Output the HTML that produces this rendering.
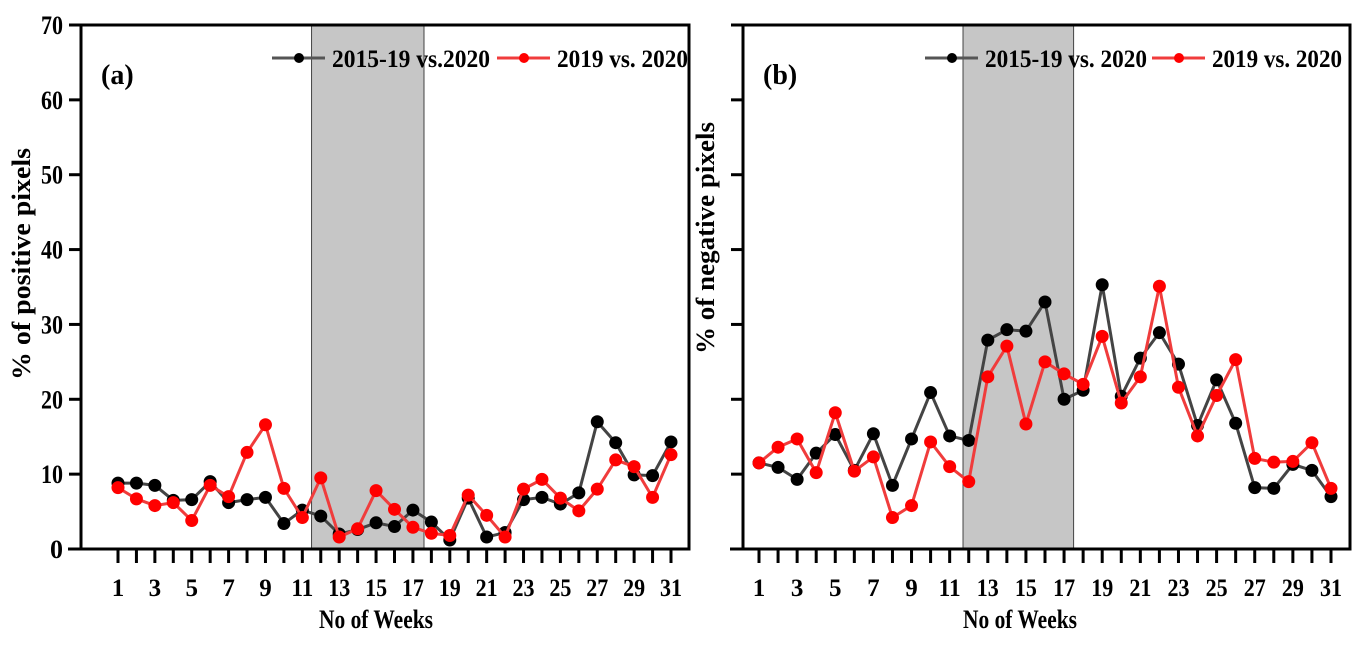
<!DOCTYPE html>
<html><head><meta charset="utf-8"><style>
body{margin:0;background:#fff;}
svg text{font-family:"Liberation Serif",serif;font-weight:bold;fill:#000;}
</style></head><body>
<svg id="c" width="1365" height="640" viewBox="0 0 1365 640" xmlns="http://www.w3.org/2000/svg"></svg>
<script>
const weeks=[1,2,3,4,5,6,7,8,9,10,11,12,13,14,15,16,17,18,19,20,21,22,23,24,25,26,27,28,29,30,31];
const yTicks=[0,10,20,30,40,50,60,70];
const posBlack=[8.8,8.8,8.5,6.5,6.6,9.0,6.2,6.6,6.9,3.4,5.2,4.4,2.0,2.6,3.5,3.0,5.2,3.6,1.2,6.8,1.6,2.2,6.6,6.9,6.0,7.5,17.0,14.2,9.9,9.8,14.3];
const posRed=[8.2,6.7,5.8,6.2,3.8,8.5,7.0,12.9,16.6,8.1,4.2,9.5,1.6,2.7,7.8,5.3,2.9,2.1,1.8,7.2,4.5,1.6,8.0,9.3,6.8,5.1,8.0,11.9,11.0,6.9,12.6];
const negBlack=[11.5,10.9,9.3,12.8,15.3,10.5,15.4,8.5,14.7,20.9,15.1,14.5,27.9,29.3,29.1,33.0,20.0,21.2,35.3,20.4,25.5,28.9,24.7,16.5,22.6,16.8,8.2,8.1,11.3,10.5,7.0];
const negRed=[11.5,13.6,14.7,10.2,18.2,10.4,12.3,4.2,5.8,14.3,11.0,9.0,23.0,27.1,16.7,25.0,23.4,22.0,28.4,19.5,23.0,35.1,21.6,15.1,20.5,25.3,12.1,11.6,11.7,14.2,8.1];
const shadeA=[11.5,17.6], shadeB=[11.7,17.5];

const svg=document.getElementById('c');
const NS='http://www.w3.org/2000/svg';
function mk(tag,attrs,parent){const e=document.createElementNS(NS,tag);for(const k in attrs)e.setAttribute(k,attrs[k]);(parent||svg).appendChild(e);return e;}

function panel(cfg){
  const g=mk('g',{});
  
  
  const x=w=>cfg.x1+(w-1)*(cfg.x31-cfg.x1)/30;
  const y=v=>549-v*(524/70);
  const sh=mk('rect',{x:x(cfg.shade[0]),y:y(70),width:x(cfg.shade[1])-x(cfg.shade[0]),height:y(0)-y(70),fill:'#c6c6c6',stroke:'#444','stroke-width':1},g);
  
  
  const bx=mk('rect',{x:cfg.left,y:y(70),width:cfg.right-cfg.left,height:y(0)-y(70),fill:'none',stroke:'#000','stroke-width':3},g);
  
  
  mk('line',{x1:cfg.left-13,x2:cfg.left,y1:y(0),y2:y(0),stroke:'#000','stroke-width':3},g);
  yTicks.forEach(t=>{
    mk('line',{x1:cfg.left-12,x2:cfg.left,y1:y(t),y2:y(t),stroke:'#000','stroke-width':3},g);
    if(cfg.ylabels){const tx=mk('text',{x:cfg.left-18,y:y(t)+9,'text-anchor':'end','font-size':26},g);tx.textContent=t;
      if(t>0){tx.setAttribute('textLength',22);tx.setAttribute('lengthAdjust','spacingAndGlyphs');}
      
      }
  });
  weeks.forEach(w=>{
    mk('line',{x1:x(w),x2:x(w),y1:y(0),y2:y(0)+14,stroke:'#000','stroke-width':3},g);
    if(w%2===1){const tx=mk('text',{x:x(w),y:596,'text-anchor':'middle','font-size':25},g);tx.textContent=w;
      if(w>9){tx.setAttribute('textLength',22);tx.setAttribute('lengthAdjust','spacingAndGlyphs');}
      
      }
  });
  const xt=mk('text',{x:cfg.xtx,y:628,'text-anchor':'middle','font-size':26,textLength:114,lengthAdjust:'spacingAndGlyphs'},g);
  xt.textContent='No of Weeks';
  
  
  const yt=mk('text',{x:0,y:0,'text-anchor':'middle','font-size':26,textLength:232,lengthAdjust:'spacingAndGlyphs',transform:`translate(${cfg.ytx},${cfg.yty}) rotate(-90)`},g);
  yt.textContent=cfg.ytitle;
  
  
  const pl=mk('text',{x:cfg.left+20,y:84,'font-size':28},g);
  pl.textContent=cfg.label;
  
  
  [[cfg.black,'#444','#000','series-2015-19'],[cfg.red,'#f03c3c','#ff0000','series-2019']].forEach(([data,lc,dc,nm])=>{
    const pts=data.map((v,i)=>x(weeks[i])+','+y(v)).join(' ');
    const pl=mk('polyline',{points:pts,fill:'none',stroke:lc,'stroke-width':3},g);
    
    
    data.forEach((v,i)=>{const c=mk('circle',{cx:x(weeks[i]),cy:y(v),r:6.5,fill:dc},g);
      
      });
  });
  cfg.legend.forEach(([lx,txt,lc,dc,tl])=>{
    const lg=mk('g',{},g);
    
    
    mk('line',{x1:lx,x2:lx+53,y1:58,y2:58,stroke:lc,'stroke-width':3},lg);
    mk('circle',{cx:lx+27,cy:58,r:5,fill:dc},lg);
    const t=mk('text',{x:lx+60,y:67,'font-size':25,textLength:tl,lengthAdjust:'spacingAndGlyphs'},lg);
    t.textContent=txt;
  });
}
panel({name:'panel-a-positive',left:81,right:689,x1:118,x31:671,shade:shadeA,black:posBlack,red:posRed,ylabels:true,
  ytitle:'% of positive pixels',label:'(a)',xtx:376,ytx:30,yty:264,
  legend:[[272,'2015-19 vs.2020','#555','#000',158],[497,'2019 vs. 2020','#f03c3c','#ff0000',131]]});
panel({name:'panel-b-negative',left:743,right:1350,x1:759,x31:1331,shade:shadeB,black:negBlack,red:negRed,ylabels:false,
  ytitle:'% of negative pixels',label:'(b)',xtx:1020,ytx:714,yty:238,
  legend:[[925,'2015-19 vs. 2020','#555','#000',162],[1152,'2019 vs. 2020','#f03c3c','#ff0000',130]]});
</script>
</body></html>
